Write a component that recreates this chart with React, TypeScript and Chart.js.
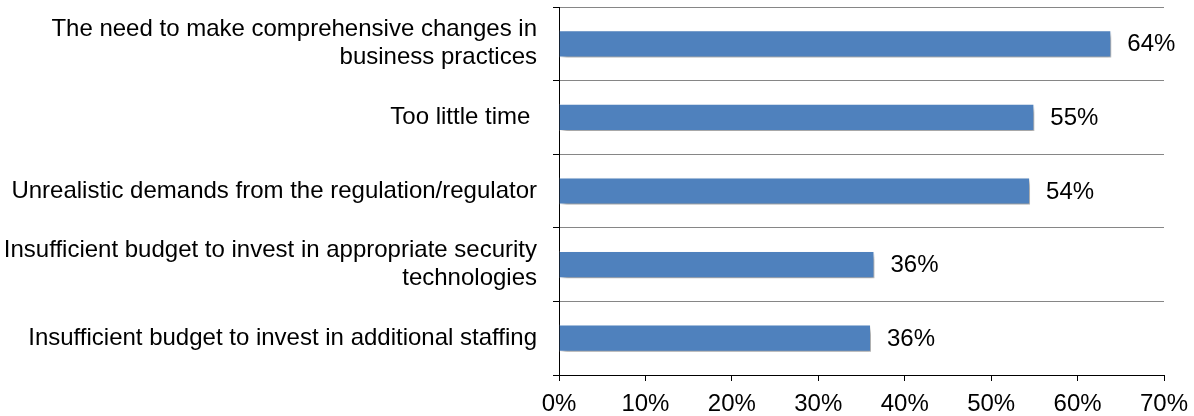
import React, { useEffect, useRef } from "react";
import { Chart, registerables } from "chart.js";

Chart.register(...registerables);

const categories: (string | string[])[] = [
  ["The need to make comprehensive changes in", "business practices"],
  "Too little time ",
  "Unrealistic demands from the regulation/regulator",
  ["Insufficient budget to invest in appropriate security", "technologies"],
  "Insufficient budget to invest in additional staffing",
];
const values: number[] = [63.9, 55.0, 54.5, 36.5, 36.1];
const valueLabels: string[] = ["64%", "55%", "54%", "36%", "36%"];
const xTicks: number[] = [0, 10, 20, 30, 40, 50, 60, 70];

const FONT = "'Liberation Sans', Arial, sans-serif";

const shadowPlugin = {
  id: "barShadowAndLabels",
  beforeDatasetsDraw(chart: any) {
    const ctx = chart.ctx;
    ctx.save();
    ctx.shadowColor = "rgba(0,0,0,0.40)";
    ctx.shadowBlur = 5;
    ctx.shadowOffsetX = 3;
    ctx.shadowOffsetY = 4;
  },
  afterDatasetsDraw(chart: any) {
    const ctx = chart.ctx;
    ctx.restore();
    const meta = chart.getDatasetMeta(0);
    ctx.save();
    ctx.font = `24px ${FONT}`;
    ctx.fillStyle = "#000";
    ctx.textAlign = "left";
    ctx.textBaseline = "middle";
    meta.data.forEach((bar: any, i: number) => {
      ctx.fillText(valueLabels[i], bar.x + 16, bar.y + 1);
    });
    ctx.restore();
  },
};

export default function App() {
  const ref = useRef<HTMLCanvasElement>(null);
  useEffect(() => {
    document.body.style.margin = "0";
    const canvas = ref.current!;
    const chart = new Chart(canvas, {
      type: "bar",
      data: {
        labels: categories,
        datasets: [
          {
            data: values,
            backgroundColor: "#4F81BD",
            borderColor: "rgba(255,255,255,0.6)",
            borderWidth: 1,
            categoryPercentage: 1,
            barPercentage: 0.37,
          },
        ],
      },
      options: {
        indexAxis: "y",
        animation: false,
        responsive: false,
        devicePixelRatio: 1,
        layout: { padding: { top: 7, right: 30, left: 0, bottom: 0 } },
        plugins: {
          legend: { display: false },
          tooltip: { enabled: false },
        },
        scales: {
          x: {
            min: 0,
            max: 70,
            afterBuildTicks: (scale: any) => {
              scale.ticks = xTicks.map((v) => ({ value: v }));
            },
            afterFit: (scale: any) => {
              scale.height = 41;
              scale.paddingLeft = 0;
              scale.paddingRight = 0;
            },
            ticks: {
              callback: (v: any) => v + "%",
              color: "#000",
              font: { family: FONT, size: 24 },
              padding: 9,
              maxRotation: 0,
            },
            grid: {
              drawOnChartArea: false,
              drawTicks: true,
              tickLength: 6,
              tickColor: "#000",
            },
            border: { color: "#000", width: 1 },
          },
          y: {
            afterFit: (scale: any) => {
              scale.width = 559;
              scale.paddingTop = 0;
              scale.paddingBottom = 0;
            },
            ticks: {
              color: "#000",
              font: { family: FONT, size: 24, lineHeight: 1.17 },
              padding: 16,
              autoSkip: false,
            },
            grid: {
              color: "#868686",
              lineWidth: 1,
              tickLength: 6,
              tickColor: "#000",
              offset: true,
            },
            border: { color: "#000", width: 1 },
          },
        },
      },
      plugins: [shadowPlugin],
    });
    return () => chart.destroy();
  }, []);
  return (
    <div style={{ width: 1194, height: 416 }}>
      <canvas ref={ref} width={1194} height={416} style={{ width: 1194, height: 416, display: "block" }} />
    </div>
  );
}
